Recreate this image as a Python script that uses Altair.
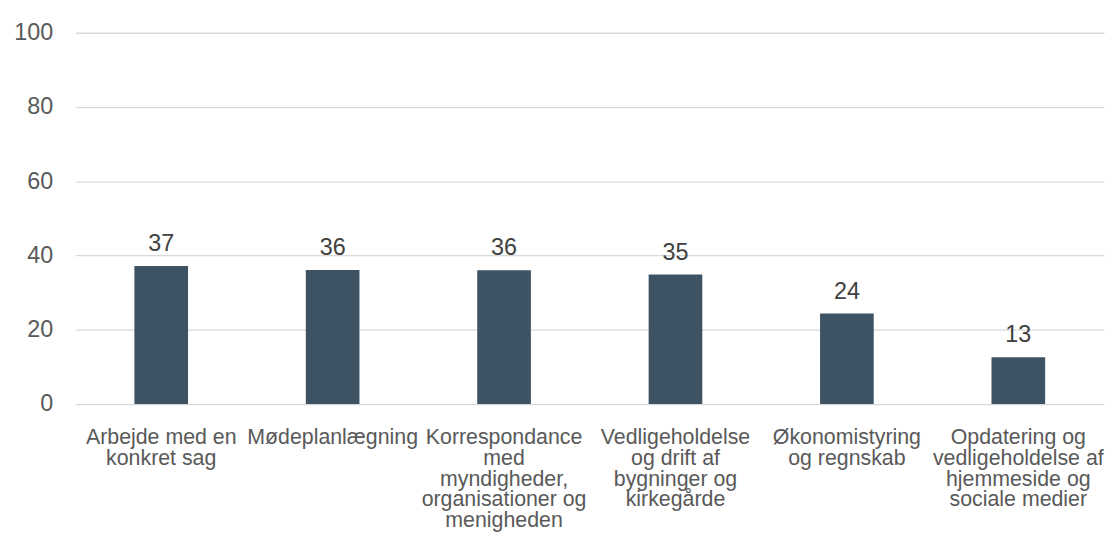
import altair as alt
import pandas as pd

categories = [
    "Arbejde med en|konkret sag",
    "Mødeplanlægning",
    "Korrespondance|med|myndigheder,|organisationer og|menigheden",
    "Vedligeholdelse|og drift af|bygninger og|kirkegårde",
    "Økonomistyring|og regnskab",
    "Opdatering og|vedligeholdelse af|hjemmeside og|sociale medier",
]
values = [37.2, 36.1, 36.0, 34.9, 24.4, 12.6]
y_ticks = [0, 20, 40, 60, 80, 100]

df = pd.DataFrame({"cat": categories, "val": values})

x_enc = alt.X(
    "cat:N",
    sort=None,
    title=None,
    scale=alt.Scale(paddingInner=0.687, paddingOuter=0.3435),
    axis=alt.Axis(
        labelAngle=0,
        labelExpr="split(datum.label, '|')",
        labelFont="Liberation Sans",
        labelFontSize=21.5,
        labelColor="#595959",
        labelLineHeight=20.8,
        labelPadding=23,
        labelBaseline="top",
        ticks=False,
        domain=False,
        grid=False,
        labelLimit=400,
    ),
)

y_enc = alt.Y(
    "val:Q",
    title=None,
    scale=alt.Scale(domain=[0, 100], nice=False),
    axis=alt.Axis(
        values=y_ticks,
        labelFont="Liberation Sans",
        labelFontSize=23.5,
        labelColor="#595959",
        labelPadding=23,
        ticks=False,
        domain=False,
        gridColor="#d9d9d9",
        gridWidth=1.3,
    ),
)

bars = alt.Chart(df).mark_bar(color="#3d5363").encode(x=x_enc, y=y_enc)

text = alt.Chart(df).mark_text(
    font="Liberation Sans",
    fontSize=23.5,
    color="#404040",
    baseline="alphabetic",
    dy=-15,
).encode(
    x=x_enc,
    y=y_enc,
    text=alt.Text("val:Q", format=".0f"),
)

chart = (
    alt.layer(bars, text)
    .properties(
        width=1036,
        height=374,
        autosize=alt.AutoSizeParams(type="none"),
        padding={"left": 68, "top": 23, "right": 3, "bottom": 130},
        view=alt.ViewBackground(strokeWidth=0, stroke="transparent", fill="white"),
    )
    .configure_view(strokeWidth=0, stroke="transparent")
    .configure_axis(domain=False, ticks=False)
    .configure(background="white")
)

chart.save("out.html", embed_options={"renderer": "svg", "actions": False})
